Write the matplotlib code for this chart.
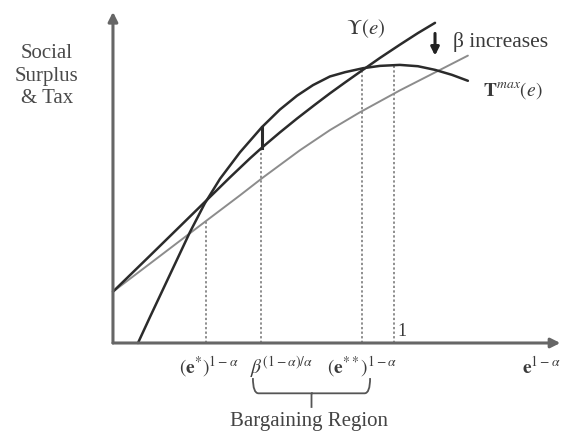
import matplotlib
matplotlib.use('Agg')
import matplotlib.pyplot as plt
from matplotlib.path import Path
from matplotlib.patches import PathPatch

# ---- data (x in units of e^(1-alpha), y relative) ----
upsilon_x = [0.000, 0.132, 0.238, 0.327, 0.416, 0.488, 0.530, 0.594, 0.655,
             0.719, 0.772, 0.826, 0.886, 0.950, 1.021, 1.085, 1.146]
upsilon_y = [0.155, 0.264, 0.352, 0.426, 0.500, 0.558, 0.590, 0.636, 0.678,
             0.720, 0.754, 0.787, 0.823, 0.861, 0.901, 0.936, 0.967]

tmax_x = [0.089, 0.132, 0.203, 0.274, 0.327, 0.381, 0.452, 0.530, 0.594, 0.655,
          0.712, 0.772, 0.826, 0.890, 0.950, 1.021, 1.085, 1.146, 1.206, 1.263]
tmax_y = [0.000, 0.079, 0.207, 0.335, 0.422, 0.496, 0.576, 0.652, 0.705, 0.747,
          0.779, 0.805, 0.818, 0.830, 0.837, 0.840, 0.836, 0.825, 0.810, 0.792]

light_x = [0.000, 0.132, 0.335, 0.452, 0.534, 0.665, 0.772, 0.879, 1.021, 1.164, 1.263]
light_y = [0.155, 0.240, 0.371, 0.446, 0.500, 0.582, 0.643, 0.697, 0.763, 0.825, 0.868]

drop_x = [0.331, 0.527, 0.886, 1.000]
drop_top = [0.369, 0.588, 0.825, 0.840]

seg_x = 0.530
seg_y = [0.590, 0.652]

tick_labels = [r'$(\mathbf{e}^{*})^{1-\alpha}$', r'$\beta^{(1-\alpha)/\alpha}$',
               r'$(\mathbf{e}^{**})^{1-\alpha}$']
tick_pos = [0.342, 0.600, 0.886]

plt.rcParams['font.family'] = ['Liberation Serif', 'DejaVu Serif']
plt.rcParams['mathtext.fontset'] = 'stix'

fig = plt.figure(figsize=(5.64, 4.40), dpi=100)
ax = fig.add_axes([0, 0, 1, 1])
ax.set_xlim(-0.402, 1.605)
ax.set_ylim(-0.293, 1.036)
ax.axis('off')

dark = '#2b2b2b'
txt = '#3a3a3a'

# axes with arrows
ax.annotate('', xy=(0, 1.0), xytext=(0, 0),
            arrowprops=dict(arrowstyle='-|>', lw=2.2, color='#666666',
                            mutation_scale=14, shrinkA=0, shrinkB=0))
ax.annotate('', xy=(1.592, 0), xytext=(0, 0),
            arrowprops=dict(arrowstyle='-|>', lw=2.2, color='#666666',
                            mutation_scale=14, shrinkA=0, shrinkB=0))

# dotted drop lines
for xv, yt in zip(drop_x, drop_top):
    ax.plot([xv, xv], [0, yt], color='#707070', lw=1.1, ls=(0, (1.5, 1.5)))

# curves
ax.plot(light_x, light_y, color='#8c8c8c', lw=1.4, solid_capstyle='round',
        solid_joinstyle='round')
ax.plot(upsilon_x, upsilon_y, color=dark, lw=1.8, solid_capstyle='round',
        solid_joinstyle='round')
ax.plot(tmax_x, tmax_y, color=dark, lw=1.8, solid_capstyle='round',
        solid_joinstyle='round')
ax.plot([seg_x, seg_x], seg_y, color=dark, lw=2.2)

# arrow "beta increases"
ax.annotate('', xy=(1.146, 0.868), xytext=(1.146, 0.935),
            arrowprops=dict(arrowstyle='-|>', lw=2.2, color='#222222',
                            mutation_scale=12, shrinkA=0, shrinkB=0))
ax.text(1.210, 0.908, 'β increases', fontsize=15.5, color=txt,
        ha='left', va='center')

ax.text(0.900, 0.950, r'$\Upsilon(e)$', fontsize=15, color=txt,
        ha='center', va='center')
ax.text(1.315, 0.764, r'$\mathbf{T}^{max}(e)$', fontsize=14, color=txt,
        ha='left', va='center')

ax.text(-0.235, 0.805, 'Social\nSurplus\n& Tax', fontsize=15, color='#4a4a4a',
        ha='center', va='center', linespacing=1.25)

ax.text(1.028, 0.035, '1', fontsize=13, color=txt, ha='center', va='center')

for lab, xp in zip(tick_labels, tick_pos):
    ax.text(xp, -0.072, lab, fontsize=14, color=txt, ha='center', va='center')
ax.text(1.523, -0.072, r'$\mathbf{e}^{1-\alpha}$', fontsize=14, color=txt,
        ha='center', va='center')

# brace under bargaining region
xl, xr = 0.498, 0.915
xm = (xl + xr) / 2
yt, yb, ytip = -0.106, -0.152, -0.196
verts = [(xl, yt), (xl, yb), (xl + 0.02, yb), (xl + 0.05, yb),
         (xm - 0.05, yb), (xm - 0.02, yb), (xm, yb), (xm, ytip),
         (xm, yb), (xm + 0.02, yb), (xm + 0.05, yb),
         (xr - 0.05, yb), (xr - 0.02, yb), (xr, yb), (xr, yt)]
codes = [Path.MOVETO, Path.CURVE3, Path.CURVE3, Path.LINETO,
         Path.LINETO, Path.CURVE3, Path.CURVE3, Path.LINETO,
         Path.MOVETO, Path.CURVE3, Path.CURVE3, Path.LINETO,
         Path.LINETO, Path.CURVE3, Path.CURVE3]
ax.add_patch(PathPatch(Path(verts, codes), fill=False, lw=1.3, color='#555555'))

ax.text(xm - 0.01, -0.236, 'Bargaining Region', fontsize=15, color='#444444',
        ha='center', va='center')

fig.savefig('out.png', dpi=100)
